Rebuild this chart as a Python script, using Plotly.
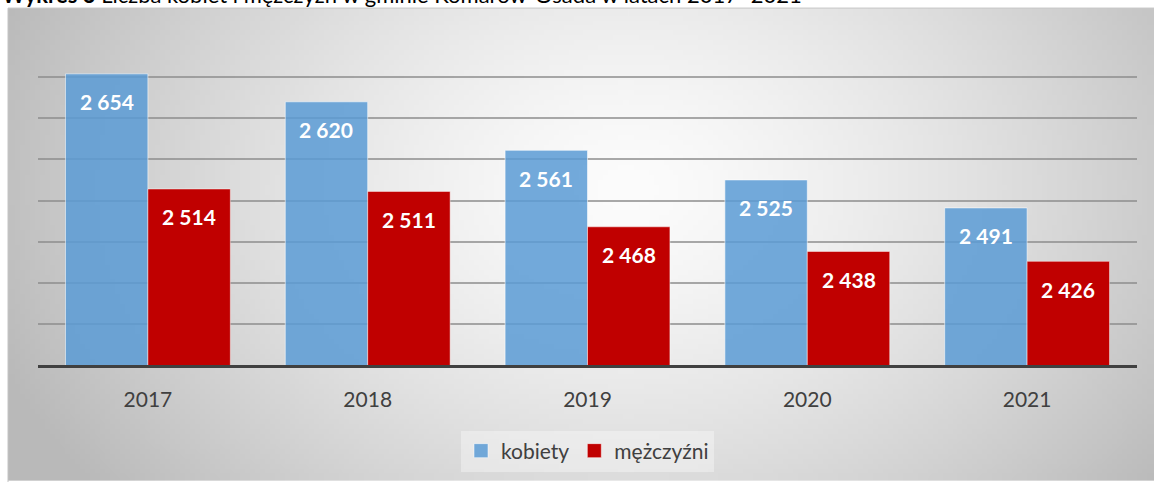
import base64, struct, zlib
import numpy as np
import plotly.graph_objects as go

years = ["2017", "2018", "2019", "2020", "2021"]
kobiety = [2654, 2620, 2561, 2525, 2491]
mezczyzni = [2514, 2511, 2468, 2438, 2426]
series_names = ["kobiety", "mężczyźni"]
title_bold = "Wykres 3"
title_rest = " Liczba kobiet i mężczyzn w gminie Komarów-Osada w latach 2017–2021"

W, H = 1154, 482
ML, MR, MT, MB = 38, 17, 36, 116
PW, PH = W - ML - MR, H - MT - MB
BLUE = "rgba(91,155,213,0.85)"
RED = "#C00000"


def fmt(v):
    return f"{v:,}".replace(",", " ")


def gradient_png(w, h):
    ys, xs = np.mgrid[0:h, 0:w]
    xs = xs / (w - 1)
    ys = ys / (h - 1)
    d = np.sqrt(((xs - 0.54) / 0.56) ** 2 + ((ys - 0.38) / 1.0) ** 2)
    d = np.clip(d, 0, 1.2)
    c = 252 - 62 * d ** 1.4
    c = np.clip(c, 185, 252).astype(np.uint8)
    raw = b"".join(b"\x00" + bytes(np.stack([c[r], c[r], c[r]], axis=1).flatten()) for r in range(h))

    def chunk(t, data):
        return struct.pack(">I", len(data)) + t + data + struct.pack(">I", zlib.crc32(t + data) & 0xffffffff)

    png = b"\x89PNG\r\n\x1a\n" + chunk(b"IHDR", struct.pack(">IIBBBBB", w, h, 8, 2, 0, 0, 0)) \
        + chunk(b"IDAT", zlib.compress(raw, 9)) + chunk(b"IEND", b"")
    return "data:image/png;base64," + base64.b64encode(png).decode()


x_idx = list(range(len(years)))
fig = go.Figure()
fig.add_trace(go.Bar(x=x_idx, y=kobiety, name=series_names[0], showlegend=False,
                     marker=dict(color=BLUE, line=dict(color="rgba(255,255,255,0.55)", width=1))))
fig.add_trace(go.Bar(x=x_idx, y=mezczyzni, name=series_names[1], showlegend=False,
                     marker=dict(color=RED, line=dict(color="rgba(255,255,255,0.45)", width=1))))
# legend entries with larger square swatches
for nm, col in zip(series_names, [BLUE, RED]):
    fig.add_trace(go.Scatter(x=[None], y=[None], mode="markers", name=nm,
                             marker=dict(symbol="square", size=14, color=col,
                                         line=dict(color="rgba(255,255,255,0.5)", width=1))))

annotations = []
for i, (a, b) in enumerate(zip(kobiety, mezczyzni)):
    for off, v in ((-0.1875, a), (0.1875, b)):
        annotations.append(dict(x=i + off, y=v, xref="x", yref="y", text=f"<b>{fmt(v)}</b>",
                                showarrow=False, yshift=-28, yanchor="middle",
                                font=dict(family="Lato", size=21, color="white")))
# document caption above the chart frame (only its lower edge is visible, as in the source)
annotations.append(dict(x=(0 - ML) / PW, y=(H - MB - 10) / PH, xref="paper", yref="paper",
                        xanchor="left", yanchor="bottom", showarrow=False,
                        text=f"<b>{title_bold}</b>{title_rest}",
                        font=dict(family="Lato", size=22, color="black")))

img = gradient_png(230, 95)

fig.update_layout(
    width=W, height=H,
    margin=dict(l=ML, r=MR, t=MT, b=MB),
    paper_bgcolor="white", plot_bgcolor="rgba(0,0,0,0)",
    barmode="group", bargap=0.25, bargroupgap=0,
    images=[dict(source=img, xref="paper", yref="paper",
                 x=(8 - ML) / PW, y=(H - MB - 8) / PH,
                 sizex=(W - 8) / PW, sizey=(H - 8) / PH,
                 xanchor="left", yanchor="top", sizing="stretch", layer="below")],
    shapes=[dict(type="line", xref="paper", yref="paper",
                 x0=(8 - ML) / PW, x1=1.2, y0=(H - MB - 8) / PH, y1=(H - MB - 8) / PH,
                 line=dict(color="#c4c4c4", width=1), layer="below"),
            dict(type="line", xref="paper", yref="paper",
                 x0=(8 - ML) / PW, x1=(8 - ML) / PW, y0=(H - MB - 8) / PH, y1=-0.5,
                 line=dict(color="#c4c4c4", width=1), layer="below")],
    xaxis=dict(tickmode="array", tickvals=x_idx, ticktext=years, range=[-0.5, len(years) - 0.5],
               showgrid=False, zeroline=False, showline=True, linecolor="#404040", linewidth=3,
               ticks="", ticklabelstandoff=14,
               tickfont=dict(family="Lato", size=21, color="#404040")),
    yaxis=dict(range=[2300, 2700], dtick=50, showticklabels=False, showgrid=True,
               gridcolor="rgba(140,140,140,0.75)", gridwidth=1.5, zeroline=False, showline=False),
    legend=dict(orientation="h", x=0.5, xanchor="center", y=(H - MB - 451) / PH, yanchor="middle",
                bgcolor="rgba(255,255,255,0.35)", font=dict(family="Lato", size=21, color="#404040"),
                itemwidth=30, traceorder="normal"),
    annotations=annotations,
)

fig.write_html("out.html", config={"displayModeBar": False},
               post_script="document.body.style.margin='0';")
